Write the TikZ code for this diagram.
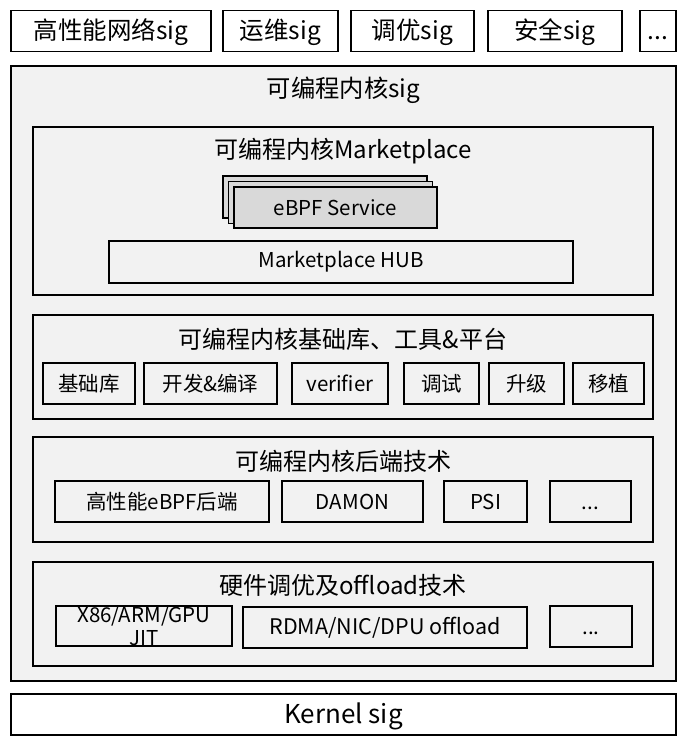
\documentclass[tikz,border=0pt]{standalone}
\usepackage{fontspec}
\setmainfont{Noto Sans CJK SC}
\usepackage{tikz}
\usepackage{xcolor}
\usetikzlibrary{positioning}
\definecolor{panelgray}{HTML}{F2F2F2}
\definecolor{servicegray}{HTML}{D9D9D9}
\definecolor{darktext}{HTML}{000000}

\tikzset{
  sigbox/.style={draw=darktext, line width=1.2pt, fill=white, inner sep=0pt,
                 text height=20pt, text depth=2.4pt,
                 font=\fontsize{24.5}{28}\selectfont},
  panel/.style={draw=darktext, line width=1.1pt, fill=panelgray, inner sep=0pt},
  item/.style={draw=darktext, line width=1.1pt, fill=panelgray, inner sep=0pt,
               minimum height=41pt, font=\fontsize{20.5}{24}\selectfont},
  moreitem/.style={item, text height=18pt, text depth=2.5pt},
  service/.style={item, fill=servicegray, minimum width=204pt, minimum height=42pt},
  title/.style={inner sep=0pt, yshift=-2pt, font=\fontsize{24}{28}\selectfont},
}

\begin{document}
\begin{tikzpicture}[x=1pt, y=-1pt]
  \fill[white] (0,0) rectangle (684,748);
  \useasboundingbox (0,0) rectangle (684,748);

  % sig row on top
  \node[sigbox, minimum width=200pt, minimum height=41pt] (hpnet) at (111,31) {高性能网络sig};
  \node[sigbox, minimum width=115pt, minimum height=41pt] (ops) at (280.5,31) {运维sig};
  \node[sigbox, minimum width=123pt, minimum height=41pt] (tuning) at (412.5,31) {调优sig};
  \node[sigbox, minimum width=134pt, minimum height=41pt] (security) at (555,31) {安全sig};
  \node[sigbox, minimum width=36pt, minimum height=41pt] (moresig) at (658,31) {...};

  % programmable kernel sig
  \node[panel, minimum width=665pt, minimum height=615pt] (pksig) at (343.5,373.5) {};
  \node[title, font=\fontsize{24.3}{28}\selectfont] (pktitle) at (343.5,88) {可编程内核sig};

  % marketplace
  \node[panel, minimum width=620pt, minimum height=168pt] (market) at (343,211) {};
  \node[title] (markettitle) at (343,149) {可编程内核Marketplace};
  \node[service] (svcback) at (325,197) {};
  \node[service] (svcmid) at (330.5,202.5) {};
  \node[service, minimum width=203pt, minimum height=41pt] (svc) at (335.5,207.5) {eBPF Service};
  \node[item, minimum width=464pt, minimum height=42pt] (hub) at (341,262) {Marketplace HUB};

  % libraries, tools & platform
  \node[panel, minimum width=620pt, minimum height=104pt] (tools) at (343,367) {};
  \node[title] (toolstitle) at (343,337) {可编程内核基础库、工具\&平台};
  \node[item, minimum width=92pt] (baselib) at (89,383.5) {基础库};
  \node[item, minimum width=133pt] (devbuild) at (210.5,383.5) {开发\&编译};
  \node[item, minimum width=96pt] (verifier) at (340,383.5) {verifier};
  \node[item, minimum width=75pt] (debug) at (441.5,383.5) {调试};
  \node[item, minimum width=75pt] (upgrade) at (526.5,383.5) {升级};
  \node[item, minimum width=71pt] (port) at (608.5,383.5) {移植};

  % backend
  \node[panel, minimum width=620pt, minimum height=105pt] (backend) at (343,489.5) {};
  \node[title] (backendtitle) at (343,459) {可编程内核后端技术};
  \node[item, minimum width=214pt] (ebpfbe) at (162,501.5) {高性能eBPF后端};
  \node[item, minimum width=141pt] (damon) at (352.5,501.5) {DAMON};
  \node[item, minimum width=83pt] (psi) at (485.5,501.5) {PSI};
  \node[moreitem, minimum width=81pt] (morebe) at (590.5,501.5) {...};

  % hardware tuning & offload
  \node[panel, minimum width=620pt, minimum height=104pt] (offload) at (343,614) {};
  \node[title] (offloadtitle) at (343,583) {硬件调优及offload技术};
  \node[item, minimum width=176pt, minimum height=40pt] (jit) at (144,626) {};
  \node[inner sep=0pt, align=center, font=\fontsize{20.5}{23}\selectfont] (jittext) at (jit) {X86/ARM/GPU\\JIT};
  \node[item, minimum width=284pt, font=\fontsize{21.5}{25}\selectfont] (rdma) at (385,627.5) {RDMA/NIC/DPU offload};
  \node[moreitem, minimum width=82pt] (moreoff) at (591,626.5) {...};

  % kernel sig
  \node[sigbox, minimum width=665pt, minimum height=41pt, font=\fontsize{26}{30}\selectfont] (kernel) at (343.5,714.5) {Kernel sig};
\end{tikzpicture}
\end{document}
